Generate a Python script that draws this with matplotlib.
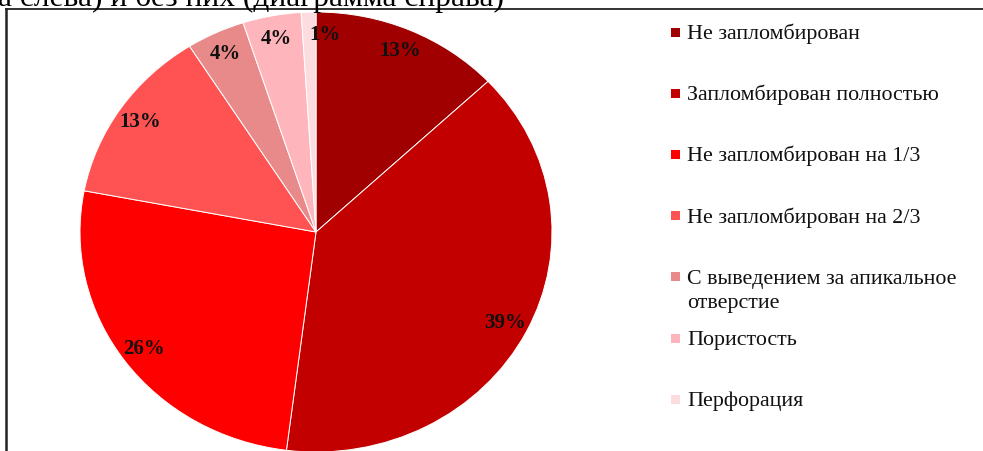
import matplotlib.pyplot as plt
from matplotlib.lines import Line2D
from matplotlib.patches import Rectangle

# доли дефектов пломбирования каналов, %
categories = ['Не запломбирован', 'Запломбирован полностью', 'Не запломбирован на 1/3',
              'Не запломбирован на 2/3', 'С выведением за апикальное\nотверстие',
              'Пористость', 'Перфорация']
values = [13, 39, 26, 13, 4, 4, 1]
colors = ['#A00000', '#C20000', '#FF0000', '#FF5353', '#E88A8A', '#FFB5BC', '#FDDCE0']

W, H = 983, 452
fig = plt.figure(figsize=(W / 100, H / 100), dpi=100)
plt.rcParams['font.family'] = ['Liberation Serif', 'DejaVu Serif']

# круг немного растянут по горизонтали, поэтому оси задаём в пикселях
cx, cy, rx, ry = 316, 233, 236, 220
ax = fig.add_axes([(cx - rx) / W, (H - cy - ry) / H, 2 * rx / W, 2 * ry / H])
wedges, texts, autotexts = ax.pie(values, colors=colors, startangle=90, counterclock=False,
                                  autopct='%1.0f%%', pctdistance=0.9,
                                  wedgeprops=dict(edgecolor='white', linewidth=0.7),
                                  textprops=dict(fontsize=15, color='#111111',
                                                 fontweight='bold'))
# подпись самого узкого сектора сдвинута вправо
autotexts[-1].set_ha('left')
ax.set_aspect('auto')
ax.set_xlim(-1, 1)
ax.set_ylim(-1, 1)

# обрезанная строка подписи сверху
fig.text(-2 / W, (H - 6) / H, 'а слева) и без них (диаграмма справа)', fontsize=22.7,
         ha='left', va='baseline', color='black')

# рамка
fig.add_artist(Line2D([6 / W, 1], [(H - 9.5) / H] * 2, color='#222222', lw=1.3))
fig.add_artist(Line2D([6 / W] * 2, [0, (H - 9.5) / H], color='#222222', lw=1.8))

# легенда: квадратный маркер и подпись, многострочные подписи построчно
y0, step, line_h = 33, 61.2, 24
for i, (lab, col) in enumerate(zip(categories, colors)):
    y = y0 + step * i
    fig.add_artist(Rectangle((671 / W, (H - y - 4.5) / H), 9 / W, 9 / H,
                             facecolor=col, edgecolor='none'))
    for j, part in enumerate(lab.split('\n')):
        fig.text(687 / W, (H - y - 6 - j * line_h) / H, part, fontsize=15.8,
                 ha='left', va='baseline', color='#111111')

fig.savefig('out.png', dpi=100)
